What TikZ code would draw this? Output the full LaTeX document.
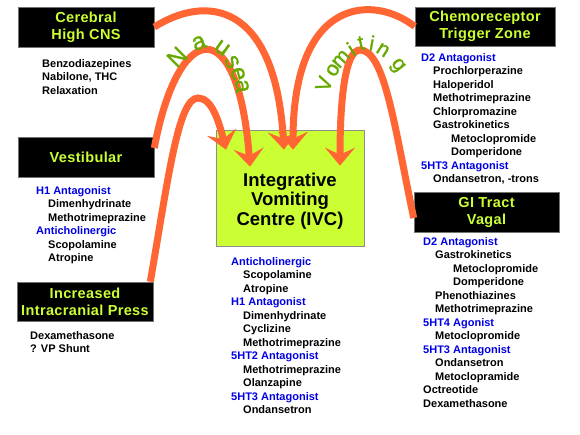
\documentclass[tikz,border=0pt]{standalone}
\usepackage{fontspec}
\setmainfont{Liberation Sans}
\newfontfamily\arcfont[FakeBold=1.2]{Liberation Sans}
\usetikzlibrary{arrows.meta}
\definecolor{lime}{RGB}{204,255,51}
\definecolor{arcorange}{RGB}{255,102,51}
\definecolor{drugblue}{RGB}{0,0,230}
\definecolor{wordgreen}{RGB}{102,170,0}
\newcommand{\hd}[1]{\textcolor{drugblue}{#1}}
\newcommand{\ia}{\hspace*{12pt}}
\newcommand{\ib}{\hspace*{30pt}}
\begin{document}
\begin{tikzpicture}[x=1pt,y=-1pt,
  titlebox/.style={fill=black,draw=black!55,line width=0.6pt,text=lime,
    font=\fontsize{14.5}{17}\selectfont\bfseries\addfontfeatures{LetterSpace=2.5},align=center,inner sep=0pt},
  ivcbox/.style={fill=lime,draw=black!45,line width=0.6pt,inner sep=0pt},
  ivctext/.style={font=\fontsize{18.5}{19.5}\selectfont\bfseries,align=center,inner sep=0pt},
  listtext/.style={anchor=base west,inner sep=0pt,font=\fontsize{11}{13.5}\selectfont\bfseries},
  flow/.style={draw=arcorange,line width=7pt,-{Stealth[length=18pt,width=30pt,inset=7pt]}},
  letter/.style={text=wordgreen,font=\arcfont\fontsize{24}{24}\selectfont,inner sep=0pt},
  vletter/.style={text=wordgreen,font=\arcfont\fontsize{21}{21}\selectfont,inner sep=0pt}
]
\useasboundingbox (0,0) rectangle (580,434);
\fill[white] (0,0) rectangle (580,434);

% central box
\node[ivcbox,minimum width=148pt,minimum height=116pt] (ivc) at (290,188) {};
\node[ivctext] (ivct) at (290,201) {Integrative\\Vomiting\\Centre (IVC)};

% title boxes
\node[titlebox,minimum width=136pt,minimum height=40pt] (cereb) at (86,27) {Cerebral\\High CNS};
\node[titlebox,minimum width=140pt,minimum height=39pt] (ctz) at (485,26.5) {Chemoreceptor\\Trigger Zone};
\node[titlebox,minimum width=136pt,minimum height=40pt] (vest) at (86,157) {Vestibular};
\node[titlebox,minimum width=136pt,minimum height=39pt] (iip) at (85,301.5) {Increased\\Intracranial Press};
\node[titlebox,minimum width=145pt,minimum height=40pt] (gi) at (486.5,212) {GI Tract\\Vagal};

% arcs
\draw[flow] (cereb.east) .. controls (205,-5) and (275,0) .. ([xshift=-6pt,yshift=-20pt]ivc.north);
\draw[flow] (ctz.west) .. controls (375,-5) and (293,-5) .. ([xshift=3pt,yshift=-20pt]ivc.north);
\draw[flow] ([yshift=9pt]vest.east) .. controls (178,20) and (238,10) .. ([xshift=-40pt,yshift=-37pt]ivc.north);
\draw[flow] ([xshift=-3pt]iip.north east) .. controls (168,180) and (178,98) .. (198,98)
  .. controls (212,98) and (219,122) .. ([xshift=-64pt,yshift=-20pt]ivc.north);
\draw[flow] ([yshift=-6pt]gi.west) .. controls (395,130) and (385,50) .. (360,50)
  .. controls (345,50) and (340,100) .. ([xshift=50pt,yshift=-36pt]ivc.north);

% Nausea
\node[letter,rotate=45] (n1) at (177,57) {N};
\node[letter,rotate=20] (n2) at (199,43) {a};
\node[letter,rotate=-35] (n3) at (222,48) {u};
\node[letter,rotate=-62] (n4) at (232,62) {s};
\node[letter,rotate=-75] (n5) at (238,74) {e};
\node[letter,rotate=-85] (n6) at (242,86) {a};

% Vomiting
\node[vletter,rotate=70] (v1) at (324,84) {V};
\node[vletter,rotate=60] (v2) at (333,70) {o};
\node[vletter,rotate=48] (v3) at (341,59) {m};
\node[vletter,rotate=32] (v4) at (351,49) {i};
\node[vletter,rotate=12] (v5) at (361,43) {t};
\node[vletter,rotate=-10] (v6) at (372,43) {i};
\node[vletter,rotate=-32] (v7) at (383,50) {n};
\node[vletter,rotate=-52] (v8) at (397,66) {g};

% lists
\node[listtext] (lcereb) at (42,67) {\begin{tabular}[t]{@{}l@{}}
Benzodiazepines\\ Nabilone, THC\\ Relaxation\end{tabular}};

\node[listtext] (lvest) at (36,194) {\begin{tabular}[t]{@{}l@{}}
\hd{H1 Antagonist}\\ \ia Dimenhydrinate\\ \ia Methotrimeprazine\\
\hd{Anticholinergic}\\ \ia Scopolamine\\ \ia Atropine\end{tabular}};

\node[listtext] (liip) at (30,339) {\begin{tabular}[t]{@{}l@{}}
Dexamethasone\\ ? VP Shunt\end{tabular}};

\node[listtext] (lctz) at (421,61) {\begin{tabular}[t]{@{}l@{}}
\hd{D2 Antagonist}\\ \ia Prochlorperazine\\ \ia Haloperidol\\ \ia Methotrimeprazine\\
\ia Chlorpromazine\\ \ia Gastrokinetics\\ \ib Metoclopromide\\ \ib Domperidone\\
\hd{5HT3 Antagonist}\\ \ia Ondansetron, -trons\end{tabular}};

\node[listtext] (lgi) at (423,245) {\begin{tabular}[t]{@{}l@{}}
\hd{D2 Antagonist}\\ \ia Gastrokinetics\\ \ib Metoclopromide\\ \ib Domperidone\\
\ia Phenothiazines\\ \ia Methotrimeprazine\\ \hd{5HT4 Agonist}\\ \ia Metoclopromide\\
\hd{5HT3 Antagonist}\\ \ia Ondansetron\\ \ia Metoclopramide\\ Octreotide\\ Dexamethasone\end{tabular}};

\node[listtext] (livc) at (231,265) {\begin{tabular}[t]{@{}l@{}}
\hd{Anticholinergic}\\ \ia Scopolamine\\ \ia Atropine\\
\hd{H1 Antagonist}\\ \ia Dimenhydrinate\\ \ia Cyclizine\\ \ia Methotrimeprazine\\
\hd{5HT2 Antagonist}\\ \ia Methotrimeprazine\\ \ia Olanzapine\\
\hd{5HT3 Antagonist}\\ \ia Ondansetron\end{tabular}};
\end{tikzpicture}
\end{document}
